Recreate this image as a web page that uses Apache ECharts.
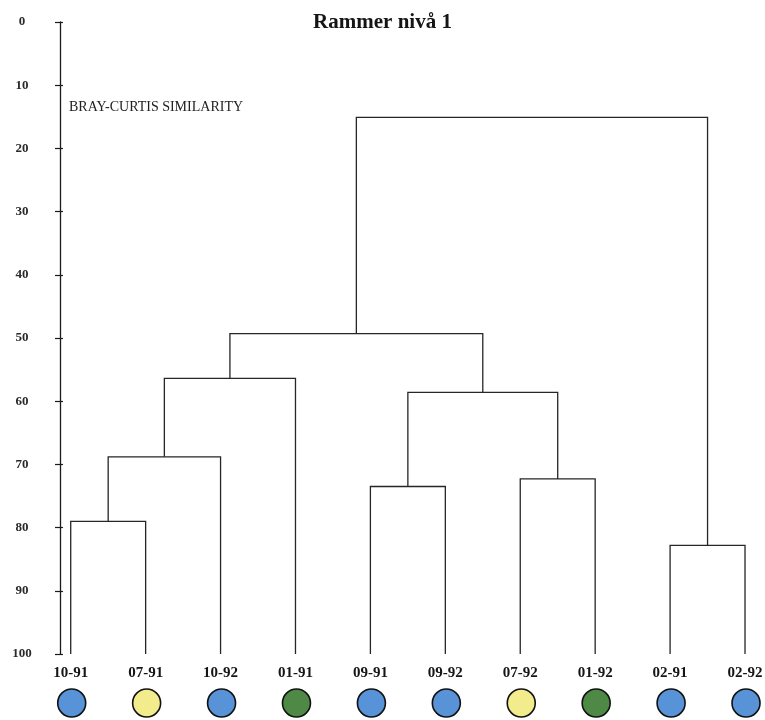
<!DOCTYPE html>
<html>
<head>
<meta charset="utf-8">
<script src="https://cdn.jsdelivr.net/npm/echarts@6/dist/echarts.min.js"></script>
<style>html,body{margin:0;padding:0;background:#fff;}#c{width:765px;height:720px;}</style>
</head>
<body>
<div id="c"></div>
<script>
// ---- data ----
const titleText = 'Rammer nivå 1';
const axisName = 'BRAY-CURTIS SIMILARITY';
const leafLabels = ['10-91','07-91','10-92','01-91','09-91','09-92','07-92','01-92','02-91','02-92'];
const leafGroup  = [0, 1, 0, 2, 0, 0, 1, 2, 0, 0]; // 0 = blue, 1 = yellow, 2 = green
// merges: node ids 0..9 are leaves, merge k creates node 10+k
const mergeLeft   = [0, 10, 11, 4, 6, 13, 12, 8, 16];
const mergeRight  = [1, 2, 3, 5, 7, 14, 15, 9, 17];
const mergeHeight = [79, 68.8, 56.4, 73.5, 72.3, 58.6, 49.3, 82.8, 15.1];
const leafHeight = 100;

// ---- build tree geometry in data space ----
const nodeX = leafLabels.map((_, i) => i);
const nodeH = leafLabels.map(() => leafHeight);
const mergeData = [];
for (let k = 0; k < mergeHeight.length; k++) {
  const a = mergeLeft[k], b = mergeRight[k], h = mergeHeight[k];
  mergeData.push([nodeX[a], nodeH[a], nodeX[b], nodeH[b], h]);
  nodeX.push((nodeX[a] + nodeX[b]) / 2);
  nodeH.push(h);
}
const leafData = leafLabels.map((l, i) => [i, leafHeight, leafGroup[i], l]);

const fillColors = ['#5793d6', '#f2ec8c', '#4e8a45'];
const serif = "'Liberation Serif','Times New Roman',serif";

const chart = echarts.init(document.getElementById('c'), null, {renderer: 'canvas'});
chart.setOption({
  backgroundColor: '#ffffff',
  animation: false,
  title: {
    text: titleText, left: 'center', top: 7,
    textStyle: {fontFamily: serif, fontWeight: 'bold', fontSize: 21, color: '#151515'}
  },
  graphic: [{
    type: 'text', left: 69, top: 100,
    style: {text: axisName, font: '14px ' + serif, fill: '#222'}
  }],
  grid: {left: 60, right: 5, top: 22, bottom: 66},
  xAxis: {
    type: 'value', min: -0.143, max: 9.2, show: false
  },
  yAxis: [{
    type: 'value', inverse: true, min: 0, max: 100, interval: 10, position: 'left',
    axisLine: {show: true, onZero: false, lineStyle: {color: '#1a1a1a', width: 1.3}},
    axisTick: {show: true, length: 5, lineStyle: {color: '#1a1a1a', width: 1.2}},
    axisLabel: {margin: 38, align: 'center', fontFamily: serif, fontWeight: 'bold', fontSize: 13, color: '#2a2a2a'},
    splitLine: {show: false}
  }, {
    type: 'value', inverse: true, min: 0, max: 100, interval: 10, position: 'left',
    axisLine: {show: false, onZero: false},
    axisTick: {show: true, inside: true, length: 3, lineStyle: {color: '#1a1a1a', width: 1.2}},
    axisLabel: {show: false},
    splitLine: {show: false}
  }],
  series: [{
    type: 'custom',
    clip: false,
    data: mergeData,
    renderItem: function (params, api) {
      const p1 = api.coord([api.value(0), api.value(1)]);
      const p2 = api.coord([api.value(0), api.value(4)]);
      const p3 = api.coord([api.value(2), api.value(4)]);
      const p4 = api.coord([api.value(2), api.value(3)]);
      return {
        type: 'polyline',
        shape: {points: [p1, p2, p3, p4]},
        style: {stroke: '#262626', lineWidth: 1.3, fill: null}
      };
    }
  }, {
    type: 'custom',
    clip: false,
    data: leafData,
    renderItem: function (params, api) {
      const p = api.coord([api.value(0), api.value(1)]);
      const g = api.value(2);
      const label = leafLabels[params.dataIndex];
      return {
        type: 'group',
        children: [{
          type: 'text',
          x: p[0], y: p[1] + 19,
          style: {text: label, font: 'bold 15px ' + serif, fill: '#151515', align: 'center', verticalAlign: 'middle'}
        }, {
          type: 'circle',
          shape: {cx: p[0] + 1, cy: p[1] + 49, r: 14},
          style: {fill: fillColors[g], stroke: '#111', lineWidth: 1.6}
        }]
      };
    }
  }]
});
</script>
</body>
</html>
